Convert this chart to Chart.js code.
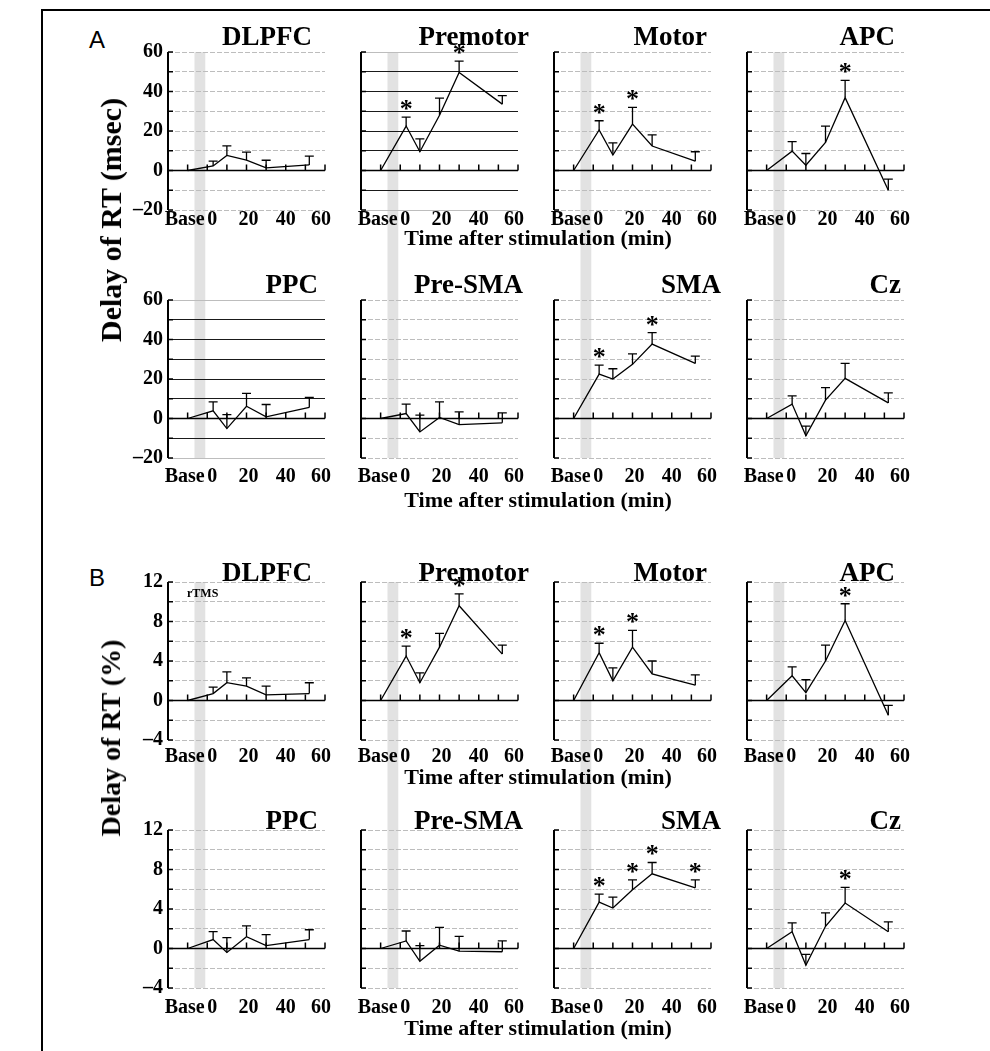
<!DOCTYPE html>
<html>
<head>
<meta charset="utf-8">
<script src="https://cdn.jsdelivr.net/npm/chart.js@4.4.0/dist/chart.umd.min.js"></script>
<style>
  body { margin: 0; background: #fff; }
  #page { position: relative; width: 990px; height: 1051px; overflow: hidden; font-family: "Liberation Serif", "Times New Roman", serif; color: #000; }
  canvas { position: absolute; }
  .frame { position: absolute; left: 41px; top: 9px; width: 1000px; height: 1100px; border-top: 2px solid #000; border-left: 2px solid #000; }
  .txt { position: absolute; font-weight: bold; white-space: nowrap; transform: translate(-50%, -50%); z-index: 5; }
  .xtitle { font-size: 22px; }
  .ytitle { font-size: 28px; transform: translate(-50%, -50%) rotate(-90deg); }
  .letter { position: absolute; font-family: "Liberation Sans", Arial, sans-serif; font-size: 24px; transform: translate(-50%, -50%); }
  .note { position: absolute; font-weight: bold; font-size: 12px; z-index: 5; }
</style>
</head>
<body>
<div id="page">
  <div class="frame"></div>
  <div class="letter" style="left:97px;top:40px">A</div>
  <div class="letter" style="left:97px;top:578px">B</div>
  <div class="txt ytitle" style="left:111px;top:220px;font-size:30px">Delay of RT (msec)</div>
  <div class="txt ytitle" style="left:111px;top:738px">Delay of RT (%)</div>
  <div class="txt xtitle" style="left:538px;top:238px">Time after stimulation (min)</div>
  <div class="txt xtitle" style="left:538px;top:500px">Time after stimulation (min)</div>
  <div class="txt xtitle" style="left:538px;top:777px">Time after stimulation (min)</div>
  <div class="txt xtitle" style="left:538px;top:1028px">Time after stimulation (min)</div>
  <div class="note" style="left:187px;top:586px">rTMS</div>
</div>
<script>
"use strict";

const minutes = [-10, 3, 10, 20, 30, 52];
const regions = ["DLPFC", "Premotor", "Motor", "APC", "PPC", "Pre-SMA", "SMA", "Cz"];

// A: delay of RT (msec), one row per region
const delayMsec = [
  [0, 2.3, 7.6, 5.2, 1.3, 2.8],
  [0, 22.5, 9.5, 28, 49.6, 33.6],
  [0, 20.5, 7.8, 23.5, 12.4, 4.7],
  [0, 9.8, 2.7, 14.2, 36.9, -10],
  [0, 3.9, -5.1, 6.2, 0.8, 5.6],
  [0, 2.5, -6.8, 0.5, -3.1, -2.2],
  [0, 22.5, 20, 27.4, 37.7, 27.9],
  [0, 7.3, -8.8, 9.3, 20.3, 7.9],
];
const semMsec = [
  [0, 2.4, 4.9, 4.1, 3.9, 4.5],
  [0, 4.5, 6.5, 8.6, 5.8, 4.3],
  [0, 4.7, 6.2, 8.5, 5.6, 4.8],
  [0, 4.8, 5.9, 8.3, 8.7, 5.6],
  [0, 4.5, 7.1, 6.5, 6.3, 5.1],
  [0, 4.8, 8.5, 7.9, 6.5, 5.0],
  [0, 4.5, 5.2, 5.3, 5.8, 3.7],
  [0, 4.2, 4.9, 6.3, 7.6, 5.1],
];
const sigMsec = [[], [1, 4], [1, 3], [4], [], [], [1, 4], []];

// B: delay of RT (%)
const delayPct = [
  [0, 0.7, 1.8, 1.45, 0.57, 0.7],
  [0, 4.5, 1.8, 5.4, 9.6, 4.7],
  [0, 4.85, 2.0, 5.4, 2.7, 1.55],
  [0, 2.5, 0.8, 4.0, 8.1, -1.5],
  [0, 0.9, -0.4, 1.2, 0.3, 0.9],
  [0, 0.77, -1.3, 0.33, -0.27, -0.33],
  [0, 4.7, 4.1, 5.95, 7.56, 6.15],
  [0, 1.7, -1.7, 2.25, 4.6, 1.7],
];
const semPct = [
  [0, 0.65, 1.1, 0.85, 0.88, 1.1],
  [0, 1.0, 1.0, 1.4, 1.2, 0.9],
  [0, 0.95, 1.3, 1.7, 1.3, 1.05],
  [0, 0.9, 1.3, 1.6, 1.7, 1.0],
  [0, 0.8, 1.5, 1.1, 1.1, 1.0],
  [0, 1.0, 1.6, 1.8, 1.5, 1.1],
  [0, 0.8, 1.1, 1.0, 1.15, 0.8],
  [0, 0.9, 1.1, 1.35, 1.6, 1.0],
];
const sigPct = [[], [1, 4], [1, 3], [4], [], [], [1, 3, 4, 5], [4]];

const xLabels = ["Base", "0", "20", "40", "60"];
const xLabelAt = [-11.5, 2.5, 21, 40, 58];
const rtmsBand = [-6.5, -1];

// layout
const plotLeft = [168, 361, 554, 747];
const plotTop = [52, 300, 582, 830];
const plotW = 157, plotH = 158;
const padL = 60, padR = 30, padT = 45, padB = 45;
const titleShift = [-13, 11, -4, -9, -7, 5, 10, -3];
const xLabelPad = [-10, -1, -3, 0];
const serif = "Liberation Serif";

const page = document.getElementById("page");

function makePanel(g, r, c) {
  const k = r * 4 + c;
  const row = g * 2 + r;
  const isMs = g === 0;
  const means = (isMs ? delayMsec : delayPct)[k];
  const sems = (isMs ? semMsec : semPct)[k];
  const sig = (isMs ? sigMsec : sigPct)[k];
  const yMin = isMs ? -20 : -4, yMax = isMs ? 60 : 12;
  const step = isMs ? 10 : 2, labelStep = isMs ? 20 : 4;
  const darkGrid = isMs && (k === 1 || k === 4);

  const canvas = document.createElement("canvas");
  const W = padL + plotW + padR, H = padT + plotH + padB;
  canvas.width = W;
  canvas.height = H;
  canvas.style.left = (plotLeft[c] - padL) + "px";
  canvas.style.top = (plotTop[row] - padT) + "px";
  canvas.style.width = W + "px";
  canvas.style.height = H + "px";
  page.appendChild(canvas);

  const decor = {
    id: "decor" + g + k,
    afterDatasetsDraw(chart) {
      const { ctx, chartArea: a, scales: { x, y } } = chart;
      ctx.save();
      ctx.strokeStyle = "#000";
      // zero line with upward ticks
      const y0 = y.getPixelForValue(0);
      ctx.lineWidth = 1.5;
      ctx.beginPath();
      ctx.moveTo(a.left, y0);
      ctx.lineTo(a.right, y0);
      for (let t = -10; t <= 60; t += 10) {
        const px = x.getPixelForValue(t);
        ctx.moveTo(px, y0);
        ctx.lineTo(px, y0 - 6);
      }
      ctx.stroke();
      // y axis with inward ticks
      ctx.lineWidth = 2;
      ctx.beginPath();
      ctx.moveTo(a.left, a.top);
      ctx.lineTo(a.left, a.bottom);
      ctx.stroke();
      ctx.lineWidth = 1.3;
      ctx.beginPath();
      for (let v = yMin; v <= yMax; v += step) {
        const py = y.getPixelForValue(v);
        ctx.moveTo(a.left, py);
        ctx.lineTo(a.left + 5, py);
      }
      ctx.stroke();
      // error bars (mean + SEM)
      ctx.lineWidth = 1.3;
      ctx.beginPath();
      minutes.forEach((m, i) => {
        if (!sems[i]) return;
        const px = x.getPixelForValue(m);
        const pm = y.getPixelForValue(means[i]);
        const pc = y.getPixelForValue(means[i] + sems[i]);
        ctx.moveTo(px, pm);
        ctx.lineTo(px, pc);
        ctx.moveTo(px - 4.5, pc);
        ctx.lineTo(px + 4.5, pc);
      });
      ctx.stroke();
      // significance marks
      ctx.fillStyle = "#000";
      ctx.font = "bold 26px " + serif;
      ctx.textAlign = "center";
      ctx.textBaseline = "alphabetic";
      sig.forEach(i => {
        const px = x.getPixelForValue(minutes[i]);
        const pc = y.getPixelForValue(means[i] + sems[i]);
        ctx.fillText("*", px, pc);
      });
      ctx.restore();
    },
    afterDraw(chart) {
      const { ctx, chartArea: a, scales: { x } } = chart;
      ctx.save();
      ctx.fillStyle = "#000";
      ctx.font = "bold 27px " + serif;
      ctx.textAlign = "right";
      ctx.textBaseline = "alphabetic";
      ctx.fillText(regions[k], a.right + titleShift[k], a.top - (isMs ? 7 : 1));
      // rTMS band, painted behind everything already drawn
      const x1 = x.getPixelForValue(rtmsBand[0]), x2 = x.getPixelForValue(rtmsBand[1]);
      const top = r === 0 ? a.top : 0;
      const bottom = r === 0 ? chart.height : a.bottom;
      ctx.globalCompositeOperation = "destination-over";
      ctx.fillStyle = "#e2e2e2";
      ctx.fillRect(x1, top, x2 - x1, bottom - top);
      ctx.restore();
    },
  };

  new Chart(canvas.getContext("2d"), {
    type: "line",
    data: {
      datasets: [{
        data: minutes.map((m, i) => ({ x: m, y: means[i] })),
        borderColor: "#000",
        borderWidth: 1.3,
        pointRadius: 0,
        tension: 0,
        fill: false,
      }],
    },
    options: {
      responsive: false,
      animation: false,
      devicePixelRatio: 1,
      events: [],
      layout: { padding: { top: padT, right: padR, left: 0, bottom: 0 } },
      plugins: { legend: { display: false }, tooltip: { enabled: false } },
      scales: {
        x: {
          type: "linear",
          min: -20,
          max: 60,
          grid: { display: false },
          border: { display: false },
          afterBuildTicks: s => { s.ticks = xLabelAt.map(v => ({ value: v })); },
          afterFit: s => { s.height = padB; s.paddingLeft = 0; s.paddingRight = 0; },
          ticks: {
            autoSkip: false,
            maxRotation: 0,
            padding: xLabelPad[row],
            color: "#000",
            font: { family: serif, size: 20, weight: "bold" },
            callback: (v, i) => xLabels[i],
          },
        },
        y: {
          min: yMin,
          max: yMax,
          border: { display: false, dash: darkGrid ? [] : [5, 2] },
          grid: {
            drawTicks: false,
            lineWidth: 1,
            color: ctx => {
              const v = ctx.tick.value;
              if (darkGrid && v > yMin && v < yMax) return "#1a1a1a";
              return "#bdbdbd";
            },
          },
          afterFit: s => { s.width = padL; s.paddingTop = 0; s.paddingBottom = 0; },
          ticks: {
            stepSize: step,
            autoSkip: false,
            display: c === 0,
            padding: 5,
            color: "#000",
            font: { family: serif, size: 20, weight: "bold" },
            callback: v => (v % labelStep === 0 ? (v < 0 ? "\u2013" + (-v) : String(v)) : ""),
          },
        },
      },
    },
    plugins: [decor],
  });
}

for (let g = 0; g < 2; g++) {
  for (let r = 0; r < 2; r++) {
    for (let c = 0; c < 4; c++) makePanel(g, r, c);
  }
}
</script>
</body>
</html>
